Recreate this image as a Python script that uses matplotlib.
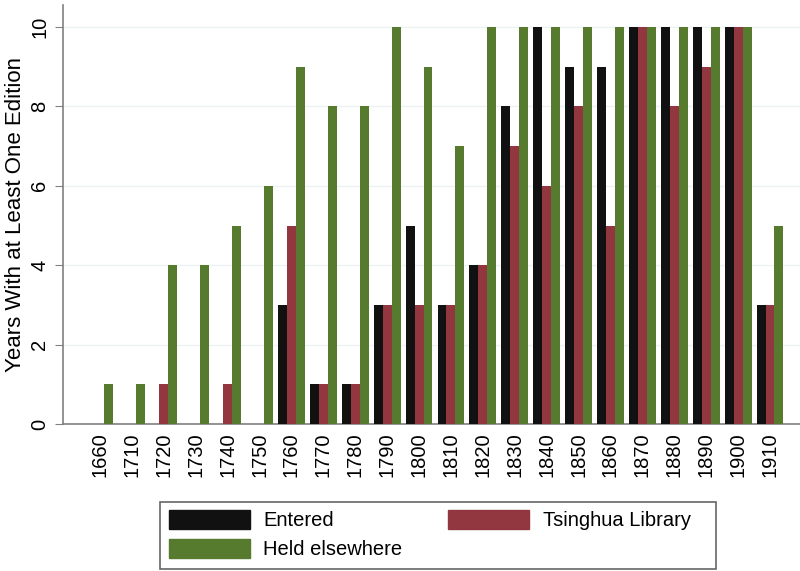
import numpy as np
import matplotlib.pyplot as plt
from matplotlib.patches import Patch, Rectangle

decades = ['1660', '1710', '1720', '1730', '1740', '1750', '1760', '1770', '1780', '1790', '1800',
           '1810', '1820', '1830', '1840', '1850', '1860', '1870', '1880', '1890', '1900', '1910']
entered = [0, 0, 0, 0, 0, 0, 3, 1, 1, 3, 5, 3, 4, 8, 10, 9, 9, 10, 10, 10, 10, 3]
tsinghua = [0, 0, 1, 0, 1, 0, 5, 1, 1, 3, 3, 3, 4, 7, 6, 8, 5, 10, 8, 9, 10, 3]
held_elsewhere = [1, 1, 4, 4, 5, 6, 9, 8, 8, 10, 9, 7, 10, 10, 10, 10, 10, 10, 10, 10, 10, 5]

c_black = '#111111'
c_red = '#923740'
c_green = '#567a2e'

plt.rcParams['font.family'] = ['Liberation Sans', 'DejaVu Sans']
plt.rcParams['font.size'] = 14.5

fig = plt.figure(figsize=(8, 5.71), dpi=100)
ax = fig.add_axes([0.07875, 0.2574, 0.92125, 0.7335])

x = np.arange(len(decades))
w = 0.28
ax.bar(x - w, entered, w, color=c_black, zorder=3)
ax.bar(x, tsinghua, w, color=c_red, zorder=3)
ax.bar(x + w, held_elsewhere, w, color=c_green, zorder=3)

ax.set_xlim(-1.16, 21.94)
ax.set_ylim(0, 10.55)
ax.set_xticks(x)
ax.set_xticklabels(decades, rotation=90)
ax.tick_params(axis='x', length=0, pad=6)
ax.set_yticks([0, 2, 4, 6, 8, 10])
ax.set_yticklabels(['0', '2', '4', '6', '8', '10'], rotation=90, va='center')
ax.tick_params(axis='y', length=6, color='#808080', pad=4)
ax.grid(axis='y', color='#edf2f2', lw=1, zorder=0)
ax.set_ylabel('Years With at Least One Edition', fontsize=16, labelpad=3)

for s in ['top', 'right']:
    ax.spines[s].set_visible(False)
for s in ['left', 'bottom']:
    ax.spines[s].set_color('#808080')
    ax.spines[s].set_linewidth(1.2)

# legend box drawn separately (Stata-style wide frame)
fig.patches.append(Rectangle((0.2, 0.0035), 0.695, 0.1173, transform=fig.transFigure,
                             fill=False, edgecolor='#666666', lw=1.2))
handles = [Patch(color=c_black), Patch(color=c_green), Patch(color=c_red)]
labels = ['Entered', 'Held elsewhere', 'Tsinghua Library']
fig.legend(handles, labels, ncol=2, loc='upper left', bbox_to_anchor=(0.21125, 0.1068),
           frameon=False, handlelength=4.02, handleheight=1.09, handletextpad=0.65,
           labelspacing=0.4, columnspacing=2.3, borderpad=0, borderaxespad=0)

fig.savefig('out.png', dpi=100)
